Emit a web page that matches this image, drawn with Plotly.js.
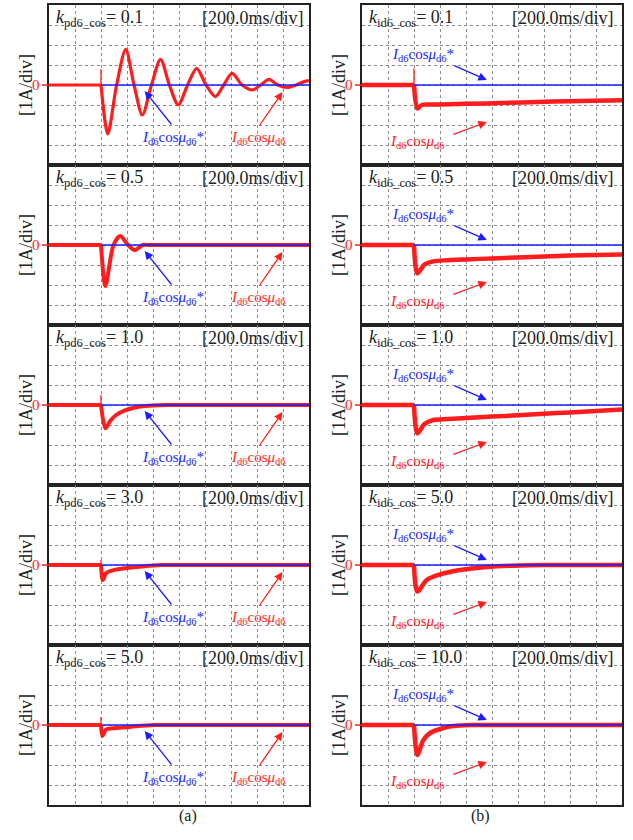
<!DOCTYPE html>
<html>
<head>
<meta charset="utf-8">
<script src="https://cdn.plot.ly/plotly-3.0.1.min.js"></script>
<style>html,body{margin:0;padding:0;background:#fff;}#chart{width:633px;height:840px;}</style>
</head>
<body>
<div id="chart"></div>
<script>
// ---- data (time in divisions of 200 ms, current in divisions of 1 A) ----
const gainLabelsA = ['0.1', '0.5', '1.0', '3.0', '5.0'];
const gainLabelsB = ['0.1', '0.5', '1.0', '5.0', '10.0'];
const refT = [2, 10];          // reference step (blue)
const refY = [0, 0];
const preT = [0, 2];           // measured current before the step
const preY = [0, 0];

// measured current after the step
const tA1 = [2.0, 2.26, 2.6, 2.95, 3.27, 3.59, 3.94, 4.29, 4.63, 4.97, 5.33, 5.68, 6.04, 6.40, 6.72, 7.04, 7.43, 7.82, 8.14, 8.46, 8.8, 9.17, 9.5, 9.82, 10];
const yA1 = [0, -2.45, 0, 1.78, 0, -1.5, 0, 1.28, 0, -1.0, 0, 0.83, 0, -0.58, 0, 0.58, 0, -0.25, 0, 0.28, 0, -0.12, 0, 0.17, 0.22];
const tA2 = [2.0, 2.17, 2.48, 2.74, 3.04, 3.29, 3.61, 3.85, 10];
const yA2 = [0, -2.05, 0, 0.45, 0, -0.25, 0, 0, 0];
const tA3 = [2.0, 2.17, 2.35, 2.58, 2.9, 3.23, 3.7, 4.5, 4.8, 10];
const yA3 = [0, -1.17, -0.8, -0.5, -0.28, -0.15, -0.05, 0, 0, 0];
const tA4 = [2.0, 2.07, 2.2, 2.5, 3.0, 3.6, 4.3, 4.6, 10];
const yA4 = [0, -0.75, -0.4, -0.25, -0.15, -0.07, 0, 0, 0];
const tA5 = [2.0, 2.05, 2.2, 2.6, 3.2, 4.0, 4.3, 10];
const yA5 = [0, -0.55, -0.22, -0.15, -0.08, 0, 0, 0];
const spikeA = [0.8, 0, 0.5, 0.25, 0.4];

const tB1 = [2.0, 2.13, 2.3, 2.6, 3.0, 4.8, 7.35, 10];
const yB1 = [0, -1.17, -1.0, -0.98, -0.97, -0.92, -0.83, -0.76];
const tB2 = [2.0, 2.13, 2.4, 2.74, 3.3, 4, 5, 6, 7, 8, 9, 10];
const yB2 = [0, -1.42, -0.98, -0.82, -0.76, -0.72, -0.67, -0.62, -0.57, -0.53, -0.5, -0.47];
const tB3 = [2.0, 2.13, 2.4, 2.74, 3.3, 4, 5, 6, 7, 8, 9, 10];
const yB3 = [0, -1.42, -0.95, -0.75, -0.7, -0.65, -0.58, -0.51, -0.44, -0.37, -0.3, -0.22];
const tB4 = [2.0, 2.13, 2.49, 3.0, 3.77, 4.79, 6.07, 7, 7.3, 10];
const yB4 = [0, -1.33, -0.75, -0.47, -0.25, -0.1, -0.02, 0, 0, 0];
const tB5 = [2.0, 2.13, 2.36, 2.62, 3.13, 3.51, 4.2, 4.5, 10];
const yB5 = [0, -1.5, -0.75, -0.4, -0.15, -0.05, 0, 0, 0];
const spikeB = [0.83, 0, 0, 0, 0];

// ---- layout helpers ----
const W = 633, H = 840;
const RED = '#ff1c1c', BLUE = '#1c1cff';
const SERIF = 'Liberation Serif';
const px = v => v / W;
const py = v => 1 - v / H;
const colX = [[49, 309], [362, 622]];
const rowTop = r => 5 + 160 * r;

const panels = [];
const aT = [tA1, tA2, tA3, tA4, tA5], aY = [yA1, yA2, yA3, yA4, yA5];
const bT = [tB1, tB2, tB3, tB4, tB5], bY = [yB1, yB2, yB3, yB4, yB5];
for (let r = 0; r < 5; r++) {
  panels.push({col: 0, row: r, sub: 'pd6_cos', val: gainLabelsA[r], t: aT[r], y: aY[r], spike: spikeA[r], w: r === 0 ? 3.2 : 4});
}
for (let r = 0; r < 5; r++) {
  panels.push({col: 1, row: r, sub: 'id6_cos', val: gainLabelsB[r], t: bT[r], y: bY[r], spike: spikeB[r], w: 4.5});
}

const traces = [];
const layout = {
  width: W, height: H,
  margin: {l: 0, r: 0, t: 0, b: 0},
  paper_bgcolor: '#fff', plot_bgcolor: '#fff',
  showlegend: false,
  font: {family: SERIF},
  annotations: [], shapes: []
};

const labelMain = '<i>I</i><sub>d6</sub>cos<i>μ</i><sub>d6</sub>';

panels.forEach((p, i) => {
  const n = i + 1;
  const xa = n === 1 ? 'x' : 'x' + n;
  const ya = n === 1 ? 'y' : 'y' + n;
  const xk = n === 1 ? 'xaxis' : 'xaxis' + n;
  const yk = n === 1 ? 'yaxis' : 'yaxis' + n;
  const [x0, x1] = colX[p.col];
  const top = rowTop(p.row), bot = top + 160;
  const axCommon = {
    showgrid: true, gridcolor: '#8a8a8a', griddash: 'dot', gridwidth: 1,
    showline: true, mirror: true, linecolor: '#222', linewidth: 2,
    ticks: '', showticklabels: false, zeroline: false, fixedrange: true
  };
  layout[xk] = Object.assign({}, axCommon, {domain: [px(x0), px(x1)], range: [0, 10], dtick: 1, tick0: 0, anchor: ya});
  layout[yk] = Object.assign({}, axCommon, {domain: [py(bot), py(top)], range: [-4, 4], dtick: 1, tick0: 0, anchor: xa});

  // measured current: before and after the step
  traces.push({x: preT, y: preY, xaxis: xa, yaxis: ya, mode: 'lines',
    line: {color: RED, width: p.w}, hoverinfo: 'skip'});
  traces.push({x: p.t, y: p.y, xaxis: xa, yaxis: ya, mode: 'lines',
    line: {color: RED, width: p.w, shape: 'spline', smoothing: 0.8}, hoverinfo: 'skip'});
  if (p.spike > 0) {
    traces.push({x: [p.t[0], p.t[0]], y: [0, p.spike], xaxis: xa, yaxis: ya, mode: 'lines',
      line: {color: RED, width: 1.3}, hoverinfo: 'skip'});
  }
  // reference
  traces.push({x: refT, y: refY, xaxis: xa, yaxis: ya, mode: 'lines',
    line: {color: BLUE, width: 1.5}, hoverinfo: 'skip'});

  // header texts
  layout.annotations.push({xref: 'paper', yref: 'paper', x: px(x0 + 5), y: py(top + 13),
    xanchor: 'left', yanchor: 'middle', showarrow: false,
    text: '<i>k</i><sub>' + p.sub + '</sub>= ' + p.val,
    font: {family: SERIF, size: 18, color: '#222'}});
  layout.annotations.push({xref: 'paper', yref: 'paper', x: px(x1 - (p.col === 0 ? 3 : 6)), y: py(top + 13),
    xanchor: 'right', yanchor: 'middle', showarrow: false,
    text: '[200.0ms/div]',
    font: {family: SERIF, size: 18, color: '#222'}});
  // axis label and zero marker
  layout.annotations.push({xref: 'paper', yref: 'paper', x: px(x0 - 23), y: py(top + 80),
    xanchor: 'center', yanchor: 'middle', showarrow: false, textangle: -90,
    text: '[1A/div]', font: {family: SERIF, size: 18, color: '#222'}});
  layout.annotations.push({xref: 'paper', yref: 'paper', x: px(x0 - 7), y: py(top + 80),
    xanchor: 'right', yanchor: 'middle', showarrow: false,
    text: '0', font: {family: SERIF, size: 15, color: RED}});
  layout.shapes.push({type: 'line', xref: 'paper', yref: 'paper',
    x0: px(x0 - 7), x1: px(x0), y0: py(top + 80), y1: py(top + 80),
    line: {color: RED, width: 1.5}});

  // trace labels and arrows
  if (p.col === 0) {
    layout.annotations.push({xref: xa, yref: ya, x: 3.68, y: -0.3, ax: 28, ay: 35,
      showarrow: true, arrowhead: 2, arrowsize: 1.3, arrowwidth: 1.3, arrowcolor: BLUE, text: ''});
    layout.annotations.push({xref: xa, yref: ya, x: 8.98, y: -0.35, ax: -24, ay: 35,
      showarrow: true, arrowhead: 2, arrowsize: 1.3, arrowwidth: 1.3, arrowcolor: RED, text: ''});
    layout.annotations.push({xref: xa, yref: ya, x: 4.75, y: -2.65, showarrow: false,
      text: labelMain + '*', font: {family: SERIF, size: 15, color: BLUE}});
    layout.annotations.push({xref: xa, yref: ya, x: 8.05, y: -2.65, showarrow: false,
      text: labelMain, font: {family: SERIF, size: 15, color: RED}});
  } else {
    layout.annotations.push({xref: xa, yref: ya, x: 4.8, y: 0.25, ax: -34, ay: -15,
      showarrow: true, arrowhead: 2, arrowsize: 1.3, arrowwidth: 1.3, arrowcolor: BLUE, text: ''});
    layout.annotations.push({xref: xa, yref: ya, x: 4.8, y: -1.85, ax: -35, ay: 13,
      showarrow: true, arrowhead: 2, arrowsize: 1.3, arrowwidth: 1.3, arrowcolor: RED, text: ''});
    layout.annotations.push({xref: xa, yref: ya, x: 2.35, y: 1.5, showarrow: false,
      text: labelMain + '*', font: {family: SERIF, size: 15, color: BLUE}});
    layout.annotations.push({xref: xa, yref: ya, x: 2.15, y: -2.85, showarrow: false,
      text: labelMain, font: {family: SERIF, size: 15, color: RED}});
  }
});

// sub-figure captions
layout.annotations.push({xref: 'paper', yref: 'paper', x: px(177), y: py(827), showarrow: false,
  text: '(a)', font: {family: SERIF, size: 16, color: '#222'}});
layout.annotations.push({xref: 'paper', yref: 'paper', x: px(492), y: py(827), showarrow: false,
  text: '(b)', font: {family: SERIF, size: 16, color: '#222'}});

Plotly.newPlot('chart', traces, layout, {staticPlot: true, displayModeBar: false});
</script>
</body>
</html>
